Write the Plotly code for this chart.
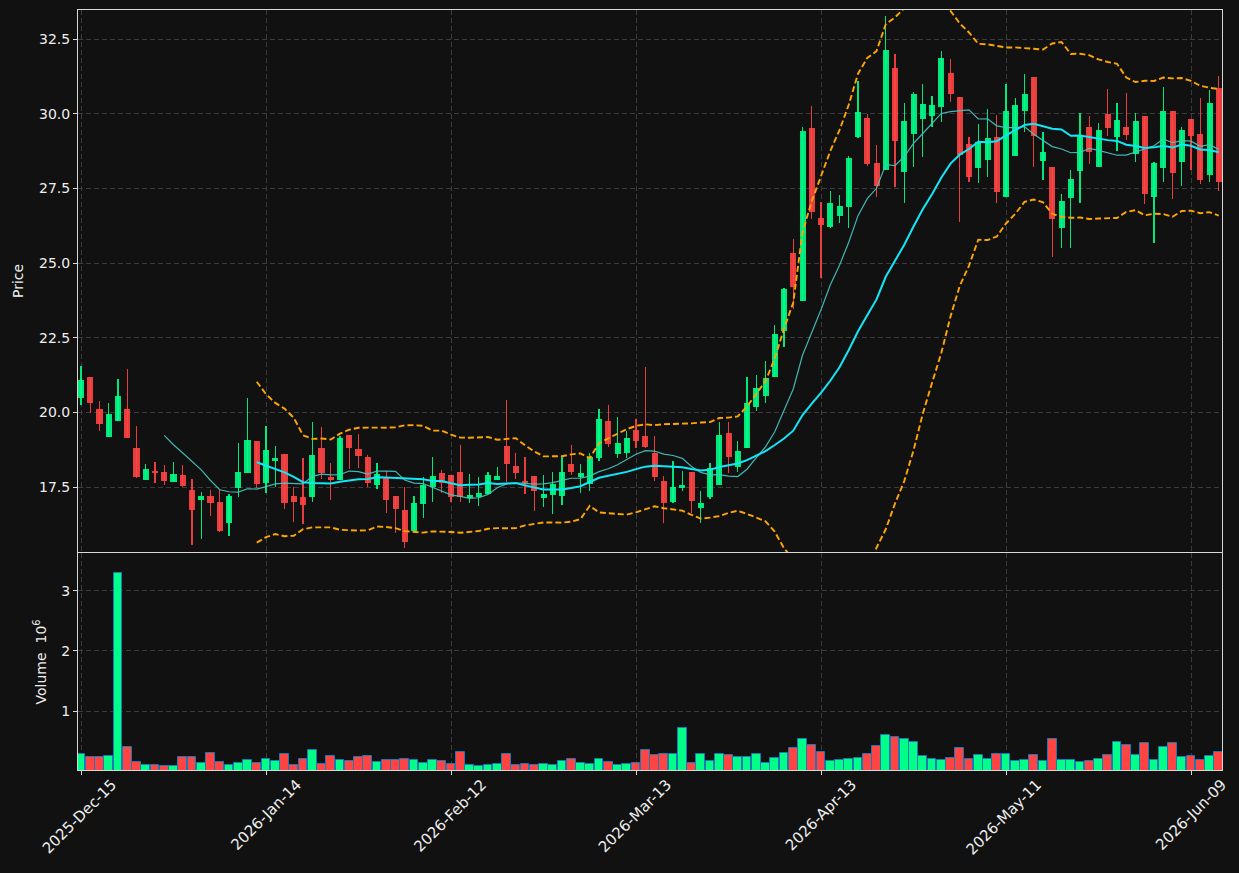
import numpy as np
import pandas as pd
import plotly.graph_objects as go

# ---------------- data ----------------
tick_labels = ["2025-Dec-15", "2026-Jan-14", "2026-Feb-12", "2026-Mar-13",
               "2026-Apr-13", "2026-May-11", "2026-Jun-09"]

open_ = [20.49, 21.18, 20.11, 19.19, 19.72, 20.11, 18.81, 17.75, 18.04, 18.00,
         17.68, 17.90, 17.40, 17.08, 17.20, 17.00, 16.31, 17.48, 17.98, 19.04,
         17.65, 18.37, 18.61, 17.20, 17.17, 17.18, 18.81, 17.85, 17.74, 19.25,
         18.77, 18.52, 17.57, 17.85, 17.20, 16.73, 16.03, 16.93, 17.49, 17.96,
         17.90, 18.00, 17.12, 17.18, 17.27, 17.74, 18.87, 18.20, 17.70, 17.87,
         17.14, 17.23, 17.21, 18.27, 17.83, 17.61, 18.48, 19.71, 18.62, 18.65,
         19.41, 19.20, 18.63, 17.71, 17.01, 17.47, 18.01, 16.80, 17.16, 17.57,
         19.31, 18.18, 18.82, 20.19, 20.56, 21.20, 22.73, 25.35, 23.74, 29.52,
         26.51, 26.22, 26.59, 26.89, 29.23, 29.87, 28.35, 28.12, 31.53, 28.06,
         29.32, 29.81, 29.92, 30.23, 31.36, 30.56, 28.98, 28.19, 28.46, 29.22,
         27.22, 28.58, 30.10, 31.23, 28.43, 28.21, 26.18, 27.19, 28.08, 29.55,
         28.22, 29.99, 29.23, 29.55, 28.65, 29.92, 27.22, 28.19, 30.09, 28.39,
         29.82, 29.31, 27.93, 30.85]

high = [21.55, 21.18, 20.37, 20.30, 21.11, 21.44, 19.53, 18.26, 18.33, 18.23,
        18.33, 18.23, 17.76, 17.32, 17.39, 17.39, 17.26, 18.96, 20.47, 19.04,
        19.53, 18.87, 18.61, 17.49, 18.46, 19.67, 19.50, 18.29, 19.22, 19.25,
        19.28, 18.57, 18.29, 18.02, 17.20, 17.49, 17.19, 17.85, 18.50, 18.07,
        17.90, 18.91, 17.94, 17.83, 17.99, 18.16, 20.41, 18.63, 18.52, 17.87,
        17.89, 17.99, 18.52, 18.90, 18.26, 18.63, 20.10, 20.24, 19.83, 19.39,
        19.79, 21.51, 19.21, 17.88, 18.36, 18.04, 18.01, 17.37, 18.30, 19.69,
        19.67, 19.03, 21.17, 21.24, 21.73, 22.92, 24.15, 25.79, 29.54, 30.27,
        27.03, 27.42, 27.27, 28.59, 31.10, 29.98, 28.95, 33.27, 32.00, 30.35,
        30.74, 30.99, 30.58, 32.09, 31.82, 30.56, 29.23, 29.64, 30.15, 29.95,
        30.99, 30.51, 31.32, 31.23, 29.40, 28.21, 27.31, 28.10, 30.01, 29.92,
        29.70, 30.82, 30.35, 30.68, 30.01, 29.92, 28.39, 30.90, 30.09, 29.56,
        29.82, 30.51, 30.79, 31.27]

low = [20.25, 19.99, 19.37, 19.19, 19.72, 19.15, 17.79, 17.75, 17.63, 17.58,
       17.68, 17.49, 15.55, 15.75, 16.52, 15.99, 15.85, 17.16, 17.98, 17.47,
       17.31, 17.49, 16.76, 16.34, 16.25, 16.99, 17.77, 17.07, 17.74, 18.09,
       18.15, 17.49, 17.42, 16.62, 15.97, 15.45, 16.03, 16.47, 17.01, 17.29,
       17.01, 17.01, 16.96, 16.88, 17.27, 17.74, 17.68, 17.76, 17.26, 16.70,
       16.82, 16.59, 16.89, 17.90, 17.29, 17.37, 18.36, 18.83, 18.48, 18.48,
       18.80, 18.80, 17.70, 16.29, 16.96, 17.37, 16.62, 16.29, 17.09, 17.57,
       17.96, 18.01, 18.82, 20.05, 20.30, 21.20, 22.18, 23.46, 23.74, 26.46,
       24.49, 26.16, 26.33, 26.16, 29.18, 28.26, 27.20, 28.12, 27.56, 27.00,
       28.23, 28.56, 29.54, 29.73, 30.38, 26.36, 27.72, 27.67, 27.89, 27.00,
       27.22, 28.58, 29.40, 28.20, 27.78, 25.19, 25.49, 25.49, 27.00, 28.30,
       28.22, 29.26, 28.75, 29.11, 28.39, 26.97, 25.66, 27.72, 27.13, 27.59,
       28.11, 27.64, 27.72, 27.42]

close = [21.08, 20.32, 19.62, 19.95, 20.55, 19.15, 17.85, 18.10, 17.97, 17.71,
         17.94, 17.54, 16.74, 17.20, 16.98, 16.04, 17.20, 18.00, 19.07, 17.61,
         18.74, 18.47, 16.98, 17.01, 16.90, 18.57, 17.96, 17.75, 19.14, 18.82,
         18.55, 17.65, 17.94, 17.07, 16.77, 15.67, 16.97, 17.58, 17.87, 17.65,
         17.18, 17.18, 17.23, 17.30, 17.90, 17.87, 18.27, 17.98, 17.65, 17.38,
         17.27, 17.60, 18.00, 18.01, 17.97, 18.51, 19.77, 18.95, 18.97, 19.13,
         19.05, 18.83, 17.85, 16.98, 17.50, 17.57, 17.04, 16.97, 18.14, 19.24,
         18.51, 18.71, 20.30, 20.82, 21.16, 22.62, 24.13, 24.21, 29.42, 26.72,
         26.27, 27.01, 26.90, 28.52, 30.06, 28.32, 27.59, 32.13, 29.10, 29.75,
         30.66, 30.32, 30.29, 31.86, 30.67, 28.62, 27.89, 29.06, 29.17, 27.39,
         30.09, 30.28, 30.66, 29.26, 28.71, 26.47, 27.08, 27.81, 29.26, 28.73,
         29.45, 29.53, 29.79, 29.29, 29.75, 27.31, 28.34, 30.09, 28.00, 29.44,
         29.26, 27.78, 30.35, 27.72]

volume = [278000, 228000, 228000, 245000, 3295000, 395000, 145000, 95000, 95000, 78000,
          78000, 228000, 228000, 128000, 295000, 145000, 95000, 128000, 178000, 128000,
          195000, 162000, 278000, 95000, 195000, 345000, 112000, 245000, 178000, 162000,
          228000, 245000, 145000, 178000, 178000, 195000, 178000, 128000, 178000, 162000,
          112000, 312000, 95000, 78000, 95000, 112000, 278000, 95000, 112000, 95000,
          112000, 95000, 162000, 195000, 128000, 112000, 195000, 145000, 95000, 112000,
          128000, 345000, 262000, 278000, 278000, 712000, 128000, 278000, 162000, 278000,
          262000, 228000, 228000, 278000, 128000, 212000, 295000, 378000, 528000, 428000,
          312000, 162000, 178000, 195000, 212000, 278000, 412000, 595000, 562000, 528000,
          478000, 245000, 195000, 178000, 212000, 378000, 195000, 262000, 195000, 278000,
          278000, 162000, 178000, 262000, 162000, 528000, 178000, 178000, 145000, 162000,
          195000, 262000, 478000, 428000, 262000, 462000, 178000, 395000, 462000, 228000,
          245000, 178000, 245000, 312000]

# ---------------- derived series ----------------
n = len(close)
x = np.arange(n)
o = np.array(open_)
h = np.array(high)
l = np.array(low)
c = np.array(close)
vol_m = np.array(volume) / 1e6

cs = pd.Series(c)
sma10 = cs.rolling(10).mean()
sma20 = cs.rolling(20).mean()
std20 = cs.rolling(20).std(ddof=0)
bb_up = sma20 + 2 * std20
bb_lo = sma20 - 2 * std20

is_up = c >= o
candle_col = ["rgba(0,255,136,0.9)" if u else "rgba(255,68,68,0.9)" for u in is_up]
vol_col = ["#00ff88" if u else "#ff4444" for u in is_up]

tick_pos = list(range(0, n, 20))[:len(tick_labels)]

# ---------------- figure ----------------
fig = go.Figure()

# wicks
fig.add_trace(go.Bar(x=x, base=l, y=h - l, width=0.12,
                     marker=dict(color=candle_col, line=dict(width=0)),
                     xaxis="x", yaxis="y", hoverinfo="skip"))
# bodies
fig.add_trace(go.Bar(x=x, base=np.minimum(o, c), y=np.maximum(np.abs(c - o), 0.02),
                     width=0.65, marker=dict(color=candle_col, line=dict(width=0)),
                     xaxis="x", yaxis="y",
                     customdata=np.stack([o, h, l, c], axis=1),
                     hovertemplate="O %{customdata[0]}<br>H %{customdata[1]}<br>"
                                   "L %{customdata[2]}<br>C %{customdata[3]}<extra></extra>"))
# moving averages
fig.add_trace(go.Scatter(x=x, y=sma10, mode="lines",
                         line=dict(color="rgba(72,200,196,0.9)", width=1.2),
                         xaxis="x", yaxis="y", name="SMA10"))
fig.add_trace(go.Scatter(x=x, y=sma20, mode="lines",
                         line=dict(color="#10e8f8", width=2),
                         xaxis="x", yaxis="y", name="SMA20"))
# bollinger bands
for band in (bb_up, bb_lo):
    fig.add_trace(go.Scatter(x=x, y=band, mode="lines",
                             line=dict(color="#ffa500", width=1.9, dash="6px,3px"),
                             xaxis="x", yaxis="y"))
# volume
fig.add_trace(go.Bar(x=x, y=vol_m, width=0.93,
                     marker=dict(color=vol_col, line=dict(color="#1f77b4", width=1)),
                     xaxis="x2", yaxis="y2", name="Volume"))

W, H = 1239, 873
px_l, px_r = 78, 1222
p_top, p_bot = 10, 552
v_top, v_bot = 553, 770

grid = "#3c3c3c"
spine = "#d8d8d8"
tick_font = dict(family="DejaVu Sans", size=14, color="#eeeeee")
date_font = dict(family="DejaVu Sans", size=15, color="#eeeeee")

common_x = dict(range=[-0.324, 123.35], tickmode="array", tickvals=tick_pos,
                showgrid=True, gridcolor=grid, griddash="5px,3px", gridwidth=1,
                showline=True, linecolor=spine, linewidth=1, mirror=True,
                zeroline=False, automargin=False, fixedrange=True,
                domain=[px_l / W, px_r / W])

fig.update_layout(
    width=W, height=H, template="none",
    margin=dict(l=0, r=0, t=0, b=0),
    paper_bgcolor="#111111", plot_bgcolor="#111111",
    showlegend=False, barmode="overlay", bargap=0,
    font=tick_font,
    xaxis=dict(common_x, anchor="y", showticklabels=False, ticks=""),
    xaxis2=dict(common_x, anchor="y2", matches="x", ticktext=tick_labels,
                showticklabels=True, tickangle=-45, ticks="outside", ticklen=4,
                tickcolor=spine, tickfont=date_font, ticklabelshift=31,
                ticklabelstandoff=-5),
    yaxis=dict(domain=[1 - p_bot / H, 1 - p_top / H], range=[15.324, 33.471],
               tickmode="linear", tick0=0, dtick=2.5, tickformat=".1f",
               showgrid=True, gridcolor=grid, griddash="5px,3px",
               showline=True, linecolor=spine, linewidth=1, mirror=True,
               ticks="outside", ticklen=4, tickcolor=spine, zeroline=False,
               automargin=False, tickfont=tick_font, fixedrange=True),
    yaxis2=dict(domain=[1 - v_bot / H, 1 - v_top / H], range=[0.0167, 3.633],
                tickmode="array", tickvals=[1, 2, 3], ticktext=["1", "2", "3"],
                showgrid=True, gridcolor=grid, griddash="5px,3px",
                showline=True, linecolor=spine, linewidth=1, mirror=True,
                ticks="outside", ticklen=4, tickcolor=spine, zeroline=False,
                automargin=False, tickfont=tick_font, fixedrange=True),
    annotations=[
        dict(text="Price", x=18 / W, y=1 - ((p_top + p_bot) / 2) / H,
             xref="paper", yref="paper", xanchor="center", yanchor="middle",
             textangle=-90, showarrow=False,
             font=dict(family="DejaVu Sans", size=14, color="#eeeeee")),
        dict(text="Volume  10<sup>6</sup>", x=40 / W, y=1 - ((v_top + v_bot) / 2) / H,
             xref="paper", yref="paper", xanchor="center", yanchor="middle",
             textangle=-90, showarrow=False,
             font=dict(family="DejaVu Sans", size=14, color="#eeeeee")),
    ],
)

fig.write_html("out.html")
